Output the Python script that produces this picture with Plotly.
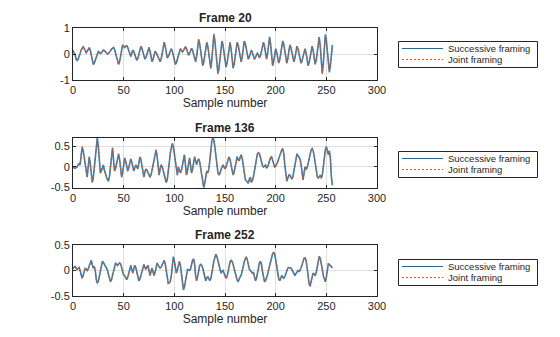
import plotly.graph_objects as go

# Sample index along each frame
sample_number = list(range(257))

frame_titles = ["Frame 20", "Frame 136", "Frame 252"]
series_names = ["Successive framing", "Joint framing"]

x_ticks = [0, 50, 100, 150, 200, 250, 300]

y_ticks_frame20 = [-1, 0, 1]
y_labels_frame20 = ["-1", "0", "1"]
y_ticks_frame136 = [-0.5, 0, 0.5]
y_labels_frame136 = ["-0.5", "0", "0.5"]
y_ticks_frame252 = [-0.5, 0, 0.5]
y_labels_frame252 = ["-0.5", "0", "0.5"]

frame20_successive = [
    0.12, 0.05, -0.02, -0.18, -0.25, -0.21, -0.12, 0.02, 0.15, 0.24,
    0.28, 0.22, 0.11, 0.05, 0.10, 0.20, 0.25, 0.15, -0.08, -0.30,
    -0.40, -0.35, -0.23, -0.08, 0.05, 0.10, 0.06, 0.02, 0.05, 0.12,
    0.15, 0.13, 0.08, 0.02, 0.00, 0.02, 0.06, 0.12, 0.19, 0.23,
    0.25, 0.18, 0.02, -0.17, -0.34, -0.40, -0.29, -0.03, 0.24, 0.35,
    0.30, 0.25, 0.29, 0.32, 0.26, 0.11, -0.04, -0.10, 0.03, 0.15,
    0.09, -0.05, -0.19, -0.25, -0.17, 0.03, 0.22, 0.30, 0.22, 0.05,
    -0.12, -0.20, -0.13, 0.03, 0.18, 0.25, 0.11, -0.16, -0.30, -0.20,
    0.00, 0.10, 0.06, -0.04, -0.16, -0.26, -0.30, -0.19, 0.08, 0.34,
    0.45, 0.30, 0.00, -0.15, -0.10, 0.03, 0.15, 0.20, 0.11, -0.10,
    -0.31, -0.40, -0.34, -0.19, 0.01, 0.14, 0.20, 0.14, 0.08, 0.13,
    0.23, 0.28, 0.20, 0.03, -0.05, 0.02, 0.15, 0.22, 0.14, -0.04,
    -0.22, -0.30, -0.09, 0.34, 0.55, 0.40, 0.05, -0.30, -0.45, -0.32,
    0.00, 0.32, 0.45, 0.30, -0.05, -0.40, -0.55, -0.22, 0.42, 0.75,
    0.52, 0.00, -0.52, -0.75, -0.56, -0.12, 0.31, 0.50, 0.35, 0.00,
    -0.35, -0.50, -0.36, -0.02, 0.31, 0.45, 0.20, -0.30, -0.55, -0.40,
    -0.05, 0.30, 0.45, 0.34, 0.08, -0.19, -0.30, -0.10, 0.30, 0.50,
    0.40, 0.15, -0.10, -0.20, -0.11, 0.06, 0.15, 0.06, -0.11, -0.20,
    -0.14, -0.01, 0.05, -0.05, -0.15, -0.06, 0.15, 0.36, 0.45, 0.29,
    -0.04, -0.20, 0.01, 0.44, 0.65, 0.38, -0.18, -0.45, -0.29, 0.04,
    0.20, 0.06, -0.21, -0.35, -0.22, 0.08, 0.37, 0.50, 0.37, 0.08,
    -0.22, -0.35, -0.18, 0.18, 0.35, 0.25, 0.03, -0.20, -0.30, -0.15,
    0.15, 0.30, 0.20, -0.03, -0.25, -0.35, -0.27, -0.08, 0.12, 0.20,
    0.04, -0.29, -0.45, -0.34, -0.08, 0.19, 0.30, 0.13, -0.23, -0.40,
    -0.24, 0.13, 0.49, 0.65, 0.30, -0.40, -0.75, -0.38, 0.38, 0.75,
    0.53, 0.02, -0.48, -0.70, -0.44, 0.09, 0.35,
]

frame20_joint = [
    0.15, 0.06, -0.02, -0.20, -0.25, -0.21, -0.12, 0.02, 0.15, 0.24,
    0.28, 0.22, 0.11, 0.05, 0.10, 0.20, 0.25, 0.15, -0.08, -0.30,
    -0.40, -0.35, -0.23, -0.08, 0.05, 0.10, 0.06, 0.02, 0.05, 0.12,
    0.15, 0.13, 0.08, 0.02, 0.00, 0.02, 0.06, 0.12, 0.19, 0.23,
    0.25, 0.18, 0.02, -0.17, -0.34, -0.42, -0.29, -0.03, 0.24, 0.35,
    0.30, 0.25, 0.29, 0.32, 0.26, 0.11, -0.04, -0.10, 0.03, 0.15,
    0.09, -0.05, -0.19, -0.25, -0.17, 0.03, 0.22, 0.30, 0.22, 0.05,
    -0.12, -0.20, -0.13, 0.03, 0.18, 0.25, 0.11, -0.16, -0.30, -0.20,
    0.00, 0.10, 0.06, -0.04, -0.16, -0.26, -0.30, -0.19, 0.08, 0.34,
    0.47, 0.30, 0.00, -0.15, -0.10, 0.03, 0.15, 0.20, 0.11, -0.10,
    -0.31, -0.40, -0.34, -0.19, 0.01, 0.14, 0.20, 0.14, 0.08, 0.13,
    0.23, 0.28, 0.20, 0.03, -0.05, 0.02, 0.15, 0.22, 0.14, -0.04,
    -0.22, -0.30, -0.09, 0.34, 0.57, 0.40, 0.05, -0.30, -0.45, -0.32,
    0.00, 0.32, 0.45, 0.30, -0.05, -0.40, -0.55, -0.22, 0.42, 0.78,
    0.52, 0.00, -0.52, -0.78, -0.56, -0.12, 0.31, 0.50, 0.35, 0.00,
    -0.35, -0.50, -0.36, -0.02, 0.31, 0.45, 0.20, -0.30, -0.55, -0.40,
    -0.05, 0.30, 0.45, 0.34, 0.08, -0.19, -0.30, -0.10, 0.30, 0.50,
    0.40, 0.15, -0.10, -0.20, -0.11, 0.06, 0.15, 0.06, -0.11, -0.20,
    -0.14, -0.01, 0.05, -0.05, -0.15, -0.06, 0.15, 0.36, 0.45, 0.29,
    -0.04, -0.20, 0.01, 0.44, 0.67, 0.38, -0.18, -0.45, -0.29, 0.04,
    0.20, 0.06, -0.21, -0.35, -0.22, 0.08, 0.37, 0.50, 0.37, 0.08,
    -0.22, -0.35, -0.18, 0.18, 0.35, 0.25, 0.03, -0.20, -0.30, -0.15,
    0.15, 0.30, 0.20, -0.03, -0.25, -0.35, -0.27, -0.08, 0.12, 0.20,
    0.04, -0.29, -0.45, -0.34, -0.08, 0.19, 0.30, 0.13, -0.23, -0.40,
    -0.24, 0.13, 0.49, 0.65, 0.30, -0.40, -0.78, -0.38, 0.38, 0.72,
    0.53, 0.02, -0.48, -0.70, -0.44, 0.09, 0.32,
]

frame136_successive = [
    -0.02, -0.03, -0.03, -0.02, 0.00, 0.05, 0.08, 0.05, 0.30, 0.48,
    0.41, 0.22, 0.00, -0.18, -0.25, 0.00, 0.25, 0.09, -0.22, -0.38,
    -0.27, 0.00, 0.33, 0.61, 0.72, 0.50, 0.07, -0.15, -0.10, 0.00,
    0.05, -0.08, -0.20, -0.24, -0.31, -0.35, -0.23, 0.06, 0.35, 0.47,
    0.18, -0.10, -0.04, 0.11, 0.26, 0.32, 0.18, -0.11, -0.25, -0.13,
    0.10, 0.22, 0.14, -0.02, -0.10, -0.02, 0.12, 0.20, 0.12, -0.02,
    -0.10, -0.02, 0.05, 0.00, -0.05, 0.10, 0.25, 0.18, 0.00, -0.18,
    -0.25, -0.12, -0.05, -0.08, -0.15, -0.22, -0.25, -0.20, -0.08, 0.09,
    0.25, 0.37, 0.42, 0.26, -0.04, -0.20, -0.05, 0.05, 0.01, -0.10,
    -0.23, -0.34, -0.38, -0.31, -0.14, 0.10, 0.34, 0.51, 0.58, 0.50,
    0.31, 0.07, -0.12, -0.20, 0.00, -0.08, -0.15, -0.08, 0.08, 0.23,
    0.30, 0.05, -0.20, -0.09, 0.12, 0.22, 0.04, -0.15, -0.05, 0.15,
    0.25, 0.15, 0.05, 0.15, 0.20, 0.13, -0.05, -0.26, -0.43, -0.51,
    -0.40, -0.20, -0.10, -0.15, -0.06, 0.15, 0.42, 0.64, 0.72, 0.66,
    0.49, 0.26, 0.03, -0.14, -0.20, -0.16, -0.07, 0.01, 0.05, 0.00,
    -0.05, 0.00, 0.10, 0.20, 0.25, 0.18, 0.02, -0.13, -0.20, -0.13,
    0.02, 0.18, 0.25, 0.18, 0.15, 0.24, 0.30, 0.21, 0.00, -0.21,
    -0.30, -0.34, -0.38, -0.40, -0.30, -0.25, -0.38, -0.34, -0.24, -0.09,
    0.08, 0.22, 0.32, 0.35, 0.32, 0.23, 0.12, 0.03, 0.00, 0.03,
    0.05, -0.03, 0.00, 0.07, 0.17, 0.23, 0.25, 0.18, 0.06, 0.00,
    0.02, 0.06, 0.12, 0.20, 0.28, 0.36, 0.42, 0.45, 0.33, 0.05,
    -0.23, -0.35, -0.28, -0.20, -0.20, -0.26, -0.30, -0.24, -0.08, 0.12,
    0.26, 0.32, 0.28, 0.24, 0.20, 0.07, -0.19, -0.32, -0.15, 0.00,
    -0.05, -0.02, 0.08, 0.20, 0.33, 0.42, 0.45, 0.40, 0.27, 0.09,
    -0.09, -0.23, -0.28, -0.22, -0.20, -0.28, -0.20, 0.00, 0.23, 0.42,
    0.50, 0.38, 0.30, 0.40, 0.20, -0.25, -0.45,
]

frame136_joint = [
    0.00, -0.01, -0.03, -0.02, 0.00, 0.05, 0.08, 0.05, 0.30, 0.50,
    0.41, 0.22, 0.00, -0.18, -0.25, 0.00, 0.25, 0.09, -0.22, -0.38,
    -0.27, 0.00, 0.33, 0.61, 0.70, 0.50, 0.07, -0.15, -0.10, 0.00,
    0.05, -0.08, -0.20, -0.24, -0.31, -0.35, -0.23, 0.06, 0.35, 0.47,
    0.18, -0.10, -0.04, 0.11, 0.26, 0.32, 0.18, -0.11, -0.25, -0.13,
    0.10, 0.22, 0.14, -0.02, -0.10, -0.02, 0.12, 0.20, 0.12, -0.02,
    -0.10, -0.02, 0.05, 0.00, -0.05, 0.10, 0.25, 0.18, 0.00, -0.18,
    -0.25, -0.12, -0.05, -0.08, -0.15, -0.22, -0.25, -0.20, -0.08, 0.09,
    0.25, 0.37, 0.42, 0.26, -0.04, -0.20, -0.05, 0.05, 0.01, -0.10,
    -0.23, -0.34, -0.38, -0.31, -0.14, 0.10, 0.34, 0.51, 0.56, 0.50,
    0.31, 0.07, -0.12, -0.20, 0.00, -0.08, -0.15, -0.08, 0.08, 0.23,
    0.30, 0.05, -0.20, -0.09, 0.12, 0.22, 0.04, -0.15, -0.05, 0.15,
    0.25, 0.15, 0.05, 0.15, 0.20, 0.13, -0.05, -0.26, -0.43, -0.49,
    -0.40, -0.20, -0.10, -0.15, -0.06, 0.15, 0.42, 0.64, 0.70, 0.66,
    0.49, 0.26, 0.03, -0.14, -0.20, -0.16, -0.07, 0.01, 0.05, 0.00,
    -0.05, 0.00, 0.10, 0.20, 0.25, 0.18, 0.02, -0.13, -0.20, -0.13,
    0.02, 0.18, 0.25, 0.18, 0.15, 0.24, 0.30, 0.21, 0.00, -0.21,
    -0.30, -0.34, -0.38, -0.40, -0.30, -0.25, -0.38, -0.34, -0.24, -0.09,
    0.08, 0.22, 0.32, 0.35, 0.32, 0.23, 0.12, 0.03, 0.00, 0.03,
    0.05, -0.03, 0.00, 0.07, 0.17, 0.23, 0.25, 0.18, 0.06, 0.00,
    0.02, 0.06, 0.12, 0.20, 0.28, 0.36, 0.42, 0.45, 0.33, 0.05,
    -0.23, -0.35, -0.28, -0.20, -0.20, -0.26, -0.30, -0.24, -0.08, 0.12,
    0.26, 0.32, 0.28, 0.24, 0.20, 0.07, -0.19, -0.32, -0.15, 0.00,
    -0.05, -0.02, 0.08, 0.20, 0.33, 0.42, 0.45, 0.40, 0.27, 0.09,
    -0.09, -0.23, -0.28, -0.22, -0.20, -0.28, -0.20, 0.00, 0.23, 0.42,
    0.50, 0.38, 0.30, 0.40, 0.20, -0.22, -0.42,
]

frame252_successive = [
    0.05, 0.07, 0.08, 0.05, 0.02, 0.04, 0.06, 0.00, -0.10, -0.15,
    -0.10, 0.00, 0.05, 0.03, 0.00, 0.03, 0.10, 0.17, 0.20, 0.12,
    0.05, 0.08, 0.00, -0.18, -0.25, -0.21, -0.10, 0.04, 0.14, 0.18,
    0.16, 0.12, 0.07, 0.05, 0.01, -0.08, -0.18, -0.22, -0.18, -0.09,
    0.03, 0.12, 0.15, 0.12, 0.10, 0.13, 0.15, 0.13, 0.06, -0.03,
    -0.09, -0.10, -0.15, -0.18, -0.13, -0.04, 0.06, 0.10, 0.02, -0.05,
    0.04, 0.10, 0.06, -0.05, -0.15, -0.20, -0.17, -0.09, 0.02, 0.10,
    0.12, 0.06, 0.02, 0.07, 0.10, 0.00, -0.10, -0.02, 0.05, -0.03,
    -0.10, -0.03, 0.10, 0.15, 0.10, 0.06, 0.05, 0.07, 0.12, 0.18,
    0.20, 0.13, -0.02, -0.18, -0.25, -0.24, -0.22, -0.10, 0.15, 0.27,
    0.19, 0.03, -0.05, 0.01, 0.12, 0.18, 0.10, -0.10, -0.30, -0.38,
    -0.32, -0.18, -0.04, 0.02, 0.01, 0.00, 0.03, 0.12, 0.20, 0.23,
    0.12, -0.10, -0.20, -0.12, 0.03, 0.10, 0.12, 0.10, 0.05, -0.05,
    -0.16, -0.20, -0.15, -0.12, -0.16, -0.20, -0.16, -0.07, 0.06, 0.19,
    0.28, 0.32, 0.28, 0.19, 0.07, -0.02, -0.05, -0.02, 0.00, -0.05,
    -0.12, -0.15, -0.12, -0.03, 0.09, 0.17, 0.20, 0.18, 0.12, 0.04,
    -0.05, -0.13, -0.19, -0.22, -0.16, -0.12, -0.09, -0.02, 0.08, 0.18,
    0.25, 0.27, 0.21, 0.11, 0.03, 0.00, -0.04, -0.05, -0.03, -0.12,
    -0.20, -0.16, -0.06, 0.07, 0.15, 0.18, 0.12, -0.02, -0.16, -0.22,
    -0.20, -0.15, -0.08, 0.01, 0.10, 0.19, 0.27, 0.33, 0.36, 0.32,
    0.22, 0.08, -0.06, -0.16, -0.20, -0.14, -0.10, -0.13, -0.15, -0.12,
    -0.05, 0.02, 0.05, 0.06, 0.06, 0.05, 0.02, -0.03, -0.08, -0.10,
    -0.06, -0.01, 0.00, -0.02, 0.00, 0.05, 0.12, 0.19, 0.24, 0.25,
    0.20, 0.06, -0.12, -0.26, -0.30, -0.20, -0.08, -0.05, -0.07, -0.10,
    -0.04, 0.10, 0.23, 0.28, 0.24, 0.15, 0.03, -0.10, -0.19, -0.22,
    -0.13, 0.06, 0.13, 0.12, 0.10, 0.08, 0.05,
]

frame252_joint = [
    0.03, 0.06, 0.08, 0.05, 0.02, 0.04, 0.06, 0.00, -0.10, -0.15,
    -0.10, 0.00, 0.05, 0.03, 0.00, 0.03, 0.10, 0.17, 0.20, 0.12,
    0.05, 0.08, 0.00, -0.18, -0.25, -0.21, -0.10, 0.04, 0.14, 0.18,
    0.16, 0.12, 0.07, 0.05, 0.01, -0.08, -0.18, -0.22, -0.18, -0.09,
    0.03, 0.12, 0.15, 0.12, 0.10, 0.13, 0.15, 0.13, 0.06, -0.03,
    -0.09, -0.10, -0.15, -0.18, -0.13, -0.04, 0.06, 0.10, 0.02, -0.05,
    0.04, 0.10, 0.06, -0.05, -0.15, -0.20, -0.17, -0.09, 0.02, 0.10,
    0.12, 0.06, 0.02, 0.07, 0.10, 0.00, -0.10, -0.02, 0.05, -0.03,
    -0.10, -0.03, 0.10, 0.15, 0.10, 0.06, 0.05, 0.07, 0.12, 0.18,
    0.20, 0.13, -0.02, -0.18, -0.25, -0.24, -0.22, -0.10, 0.15, 0.27,
    0.19, 0.03, -0.05, 0.01, 0.12, 0.18, 0.10, -0.10, -0.30, -0.36,
    -0.32, -0.18, -0.04, 0.02, 0.01, 0.00, 0.03, 0.12, 0.20, 0.23,
    0.12, -0.10, -0.20, -0.12, 0.03, 0.10, 0.12, 0.10, 0.05, -0.05,
    -0.16, -0.20, -0.15, -0.12, -0.16, -0.20, -0.16, -0.07, 0.06, 0.19,
    0.28, 0.32, 0.28, 0.19, 0.07, -0.02, -0.05, -0.02, 0.00, -0.05,
    -0.12, -0.15, -0.12, -0.03, 0.09, 0.17, 0.20, 0.18, 0.12, 0.04,
    -0.05, -0.13, -0.19, -0.22, -0.16, -0.12, -0.09, -0.02, 0.08, 0.18,
    0.25, 0.27, 0.21, 0.11, 0.03, 0.00, -0.04, -0.05, -0.03, -0.12,
    -0.20, -0.16, -0.06, 0.07, 0.15, 0.18, 0.12, -0.02, -0.16, -0.22,
    -0.20, -0.15, -0.08, 0.01, 0.10, 0.19, 0.27, 0.33, 0.34, 0.32,
    0.22, 0.08, -0.06, -0.16, -0.20, -0.14, -0.10, -0.13, -0.15, -0.12,
    -0.05, 0.02, 0.05, 0.06, 0.06, 0.05, 0.02, -0.03, -0.08, -0.10,
    -0.06, -0.01, 0.00, -0.02, 0.00, 0.05, 0.12, 0.19, 0.24, 0.25,
    0.20, 0.06, -0.12, -0.26, -0.32, -0.20, -0.08, -0.05, -0.07, -0.10,
    -0.04, 0.10, 0.23, 0.28, 0.24, 0.15, 0.03, -0.10, -0.19, -0.22,
    -0.13, 0.06, 0.13, 0.12, 0.10, 0.10, 0.07,
]

FONT = "Liberation Sans, Arial, Helvetica, sans-serif"
TEXT = "#262626"
BLUE = "#0072BD"
ORANGE = "#D95319"
JOINT_DASH = "2px,2px"

# Figure geometry (pixels) used to place the boxed legends beside each axes
W, H = 560, 337
ML, MR, MT, MB = 73, 183, 28, 41
PW, PH = W - ML - MR, H - MT - MB


def px_x(x):
    return (x - ML) / PW


def px_y(y):
    return (H - MB - y) / PH


panels = [
    (frame20_successive, frame20_joint, [-1, 1], y_ticks_frame20, y_labels_frame20,
     [0.806, 1.0], 0),
    (frame136_successive, frame136_joint, [-0.51, 0.72], y_ticks_frame136, y_labels_frame136,
     [0.404, 0.591], 110),
    (frame252_successive, frame252_joint, [-0.5, 0.5], y_ticks_frame252, y_labels_frame252,
     [0.0, 0.190], 218),
]

fig = go.Figure()
layout = {}
annotations = []
shapes = []

for i, (succ, joint, yrange, yticks, ylabels, ydom, dy) in enumerate(panels):
    n = i + 1
    suffix = "" if n == 1 else str(n)

    fig.add_trace(go.Scatter(
        x=sample_number, y=succ, mode="lines", name=series_names[0],
        line=dict(color=BLUE, width=1.6), opacity=0.85, showlegend=False,
        xaxis=f"x{suffix}", yaxis=f"y{suffix}",
    ))
    fig.add_trace(go.Scatter(
        x=sample_number, y=joint, mode="lines", name=series_names[1],
        line=dict(color=ORANGE, width=1.1, dash=JOINT_DASH), showlegend=False,
        xaxis=f"x{suffix}", yaxis=f"y{suffix}",
    ))

    common = dict(
        showline=True, linecolor=TEXT, linewidth=1, mirror="ticks",
        ticks="inside", ticklen=3, tickcolor=TEXT,
        showgrid=True, gridcolor="#e0e0e0", gridwidth=1, zeroline=False,
        tickfont=dict(family=FONT, size=11, color=TEXT),
    )
    layout[f"xaxis{suffix}"] = dict(
        common, domain=[0, 1], range=[0, 300], tickmode="array", tickvals=x_ticks,
        anchor=f"y{suffix}",
        title=dict(text="Sample number", font=dict(family=FONT, size=12, color=TEXT), standoff=0),
    )
    layout[f"yaxis{suffix}"] = dict(
        common, domain=ydom, range=yrange, tickmode="array", tickvals=yticks,
        ticktext=ylabels, anchor=f"x{suffix}",
    )
    annotations.append(dict(
        text=f"<b>{frame_titles[i]}</b>", xref="paper", yref="paper",
        x=0.5, y=ydom[1], xanchor="center", yanchor="bottom", yshift=1,
        showarrow=False, font=dict(family=FONT, size=12, color=TEXT),
    ))

    # Boxed legend to the right of the axes
    shapes.append(dict(
        type="rect", xref="paper", yref="paper",
        x0=px_x(398.5), x1=px_x(537.5), y0=px_y(41.5 + dy), y1=px_y(67.5 + dy),
        line=dict(color=TEXT, width=1), fillcolor="white", layer="above",
    ))
    for row, (name, color, dash) in enumerate(
            [(series_names[0], BLUE, "solid"), (series_names[1], ORANGE, JOINT_DASH)]):
        yc = 48.5 + dy + row * 11
        shapes.append(dict(
            type="line", xref="paper", yref="paper",
            x0=px_x(402), x1=px_x(443), y0=px_y(yc), y1=px_y(yc),
            line=dict(color=color, width=1, dash=dash), layer="above",
        ))
        annotations.append(dict(
            text=name, xref="paper", yref="paper",
            x=px_x(446), y=px_y(yc), xanchor="left", yanchor="middle",
            showarrow=False, font=dict(family=FONT, size=9.5, color=TEXT),
        ))

fig.update_layout(
    **layout,
    annotations=annotations,
    shapes=shapes,
    width=W, height=H,
    margin=dict(l=ML, r=MR, t=MT, b=MB),
    paper_bgcolor="white", plot_bgcolor="white",
    showlegend=False,
)

fig.write_html("out.html")
